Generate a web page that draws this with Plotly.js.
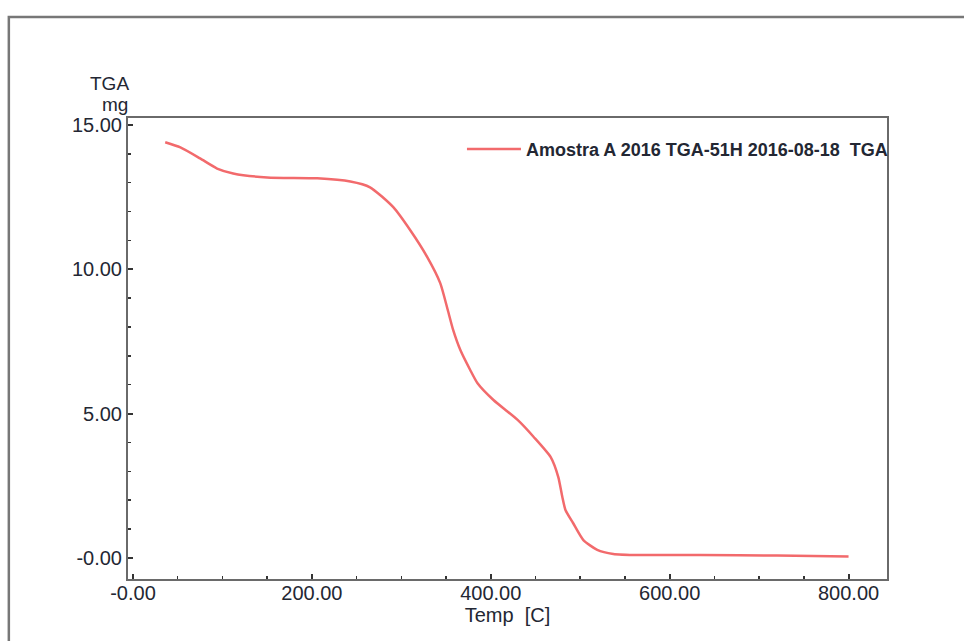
<!DOCTYPE html>
<html>
<head>
<meta charset="utf-8">
<script src="https://cdn.plot.ly/plotly-3.0.1.min.js"></script>
<style>html,body{margin:0;padding:0;background:#fff;}#chart{width:964px;height:641px;}</style>
</head>
<body>
<div id="chart"></div>
<script>
// Temperature [C]
const temp = [36, 53, 75, 94, 112, 150, 206, 243, 265, 291, 310, 329, 343.5, 352, 358, 366, 377, 385, 403, 430, 448, 467, 475.5, 480, 483.5, 492, 503.5, 519, 537, 567, 634, 720, 800];
// TGA mass [mg]
const mass = [14.40, 14.22, 13.84, 13.49, 13.32, 13.18, 13.15, 13.04, 12.84, 12.15, 11.35, 10.42, 9.52, 8.58, 7.89, 7.20, 6.51, 6.06, 5.47, 4.78, 4.19, 3.49, 2.80, 2.11, 1.66, 1.21, 0.62, 0.28, 0.14, 0.10, 0.10, 0.08, 0.05];
const seriesName = 'Amostra A 2016 TGA-51H 2016-08-18  TGA';
const xTickVals = [0, 200, 400, 600, 800];
const xTickText = ['-0.00', '200.00', '400.00', '600.00', '800.00'];
const yTickVals = [0, 5, 10, 15];
const yTickText = ['-0.00', '5.00', '10.00', '15.00'];

const fontFam = '"Liberation Sans", Arial, sans-serif';
const textCol = '#232733';
const axisCol = '#6a6a6a';

const trace = {
  x: temp, y: mass, type: 'scatter', mode: 'lines', name: seriesName,
  line: {color: '#f26a6c', width: 2.5, shape: 'spline', smoothing: 0.6}
};

const layout = {
  width: 964, height: 641,
  margin: {l: 128, r: 77, t: 118, b: 62},
  paper_bgcolor: '#ffffff', plot_bgcolor: '#ffffff',
  font: {family: fontFam, color: textCol},
  showlegend: true,
  legend: {x: 0.44, y: 0.932, xanchor: 'left', yanchor: 'middle', bgcolor: 'rgba(0,0,0,0)',
           borderwidth: 0, itemwidth: 54, font: {family: fontFam, size: 18, color: textCol, weight: 'bold'}},
  xaxis: {
    range: [-5.6, 843], tickmode: 'array', tickvals: xTickVals, ticktext: xTickText,
    showgrid: false, zeroline: false, showline: true, linecolor: axisCol, linewidth: 2, mirror: true,
    ticks: 'inside', ticklen: 5, tickwidth: 2, tickcolor: '#333',
    minor: {dtick: 50, tick0: 0, ticks: 'inside', ticklen: 3, tickwidth: 1.5, tickcolor: '#333', showgrid: false},
    tickfont: {size: 20, color: textCol}, ticklabelstandoff: -5,
    title: {text: 'Temp  [C]', font: {size: 20, color: textCol}, standoff: 0}
  },
  yaxis: {
    range: [-0.73, 15.24], tickmode: 'array', tickvals: yTickVals, ticktext: yTickText,
    showgrid: false, zeroline: false, showline: true, linecolor: axisCol, linewidth: 2, mirror: true,
    ticks: 'inside', ticklen: 5, tickwidth: 2, tickcolor: '#333',
    minor: {dtick: 1, tick0: 0, ticks: 'inside', ticklen: 3, tickwidth: 1.5, tickcolor: '#333', showgrid: false},
    tickfont: {size: 20, color: textCol}, ticklabelstandoff: 0
  },
  annotations: [
    {text: 'TGA', xref: 'paper', yref: 'paper', x: 0.004, y: (579 - 83) / 461, xanchor: 'right', yanchor: 'middle',
     showarrow: false, font: {size: 19, color: textCol}},
    {text: 'mg', xref: 'paper', yref: 'paper', x: 0.003, y: (579 - 104) / 461, xanchor: 'right', yanchor: 'middle',
     showarrow: false, font: {size: 19, color: textCol}}
  ],
  shapes: [
    {type: 'path', xref: 'paper', yref: 'paper',
     path: 'M -0.157,-0.14 L -0.157,1.219 L 1.11,1.219',
     line: {color: '#777', width: 2.5}}
  ]
};

Plotly.newPlot('chart', [trace], layout, {displayModeBar: false, staticPlot: true});
</script>
</body>
</html>
